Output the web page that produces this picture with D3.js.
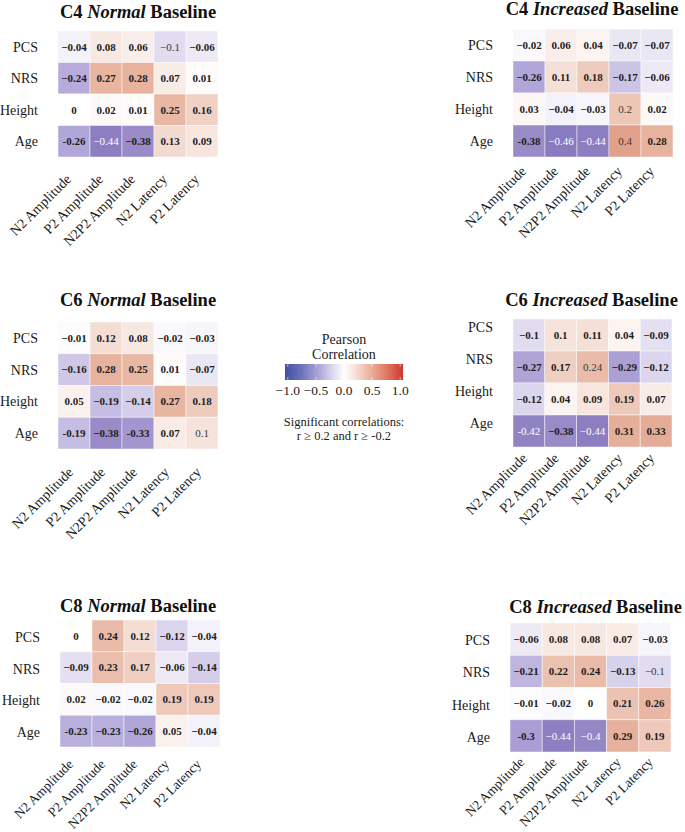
<!DOCTYPE html>
<html><head><meta charset="utf-8">
<script src="https://cdn.jsdelivr.net/npm/d3@7"></script>
<style>
html,body{margin:0;padding:0;background:#fff;}
svg{display:block;font-family:"Liberation Serif","Times New Roman",serif;}
</style></head>
<body><svg id="chart" width="685" height="832"></svg>
<script>
// ---------------- DATA ----------------
const rowLabels = ["PCS", "NRS", "Height", "Age"];
const colLabels = ["N2 Amplitude", "P2 Amplitude", "N2P2 Amplitude", "N2 Latency", "P2 Latency"];
const panelLocations = ["C4", "C4", "C6", "C6", "C8", "C8"];
const panelGroups = ["Normal", "Increased", "Normal", "Increased", "Normal", "Increased"];

const c4Normal = [
  [-0.04, 0.08, 0.06, -0.1, -0.06],
  [-0.24, 0.27, 0.28, 0.07, 0.01],
  [0, 0.02, 0.01, 0.25, 0.16],
  [-0.26, -0.44, -0.38, 0.13, 0.09]];
const c4Increased = [
  [-0.02, 0.06, 0.04, -0.07, -0.07],
  [-0.26, 0.11, 0.18, -0.17, -0.06],
  [0.03, -0.04, -0.03, 0.2, 0.02],
  [-0.38, -0.46, -0.44, 0.4, 0.28]];
const c6Normal = [
  [-0.01, 0.12, 0.08, -0.02, -0.03],
  [-0.16, 0.28, 0.25, 0.01, -0.07],
  [0.05, -0.19, -0.14, 0.27, 0.18],
  [-0.19, -0.38, -0.33, 0.07, 0.1]];
const c6Increased = [
  [-0.1, 0.1, 0.11, 0.04, -0.09],
  [-0.27, 0.17, 0.24, -0.29, -0.12],
  [-0.12, 0.04, 0.09, 0.19, 0.07],
  [-0.42, -0.38, -0.44, 0.31, 0.33]];
const c8Normal = [
  [0, 0.24, 0.12, -0.12, -0.04],
  [-0.09, 0.23, 0.17, -0.06, -0.14],
  [0.02, -0.02, -0.02, 0.19, 0.19],
  [-0.23, -0.23, -0.26, 0.05, -0.04]];
const c8Increased = [
  [-0.06, 0.08, 0.08, 0.07, -0.03],
  [-0.21, 0.22, 0.24, -0.13, -0.1],
  [-0.01, -0.02, 0, 0.21, 0.26],
  [-0.3, -0.44, -0.4, 0.29, 0.19]];
const panelValues = [c4Normal, c4Increased, c6Normal, c6Increased, c8Normal, c8Increased];

// cells printed in regular weight, and cells printed with a plain hyphen: [panel,row,col]
const regularWeightCells = [[0,0,3],[0,3,1],[1,2,3],[1,3,1],[1,3,2],[1,3,3],[2,3,4],[3,1,2],[3,3,0],[3,3,2],[5,1,4],[5,3,1],[5,3,2]];
const hyphenCells = [[0,3,0],[1,3,0],[2,3,0],[2,3,2],[3,3,0],[4,3,0],[5,3,0]];

const legendTicks = [-1.0, -0.5, 0.0, 0.5, 1.0];
const legendTitle = ["Pearson", "Correlation"];
const legendNote = ["Significant correlations:", "r \u2265 0.2 and r \u2265 -0.2"];

// ---------------- LAYOUT ----------------
const layout = [
  {x0: 58,  y0: 31,  w: 160, h: 126, titleY: 18,  titleDx: 0,  labelShift: 0,  xlDx: -2, xlDy: 23, xlFs: 14},
  {x0: 513, y0: 29,  w: 160, h: 128, titleY: 15,  titleDx: -1, labelShift: 0,  xlDx: -2, xlDy: 15, xlFs: 14},
  {x0: 58,  y0: 322, w: 160, h: 127, titleY: 306, titleDx: 0,  labelShift: 0,  xlDx: 0,  xlDy: 24, xlFs: 14},
  {x0: 513, y0: 319, w: 159, h: 128, titleY: 306, titleDx: -1, labelShift: -8, xlDx: -1, xlDy: 12, xlFs: 14},
  {x0: 60,  y0: 620, w: 160, h: 127, titleY: 612, titleDx: -2, labelShift: 1,  xlDx: -2, xlDy: 18, xlFs: 13.5},
  {x0: 510, y0: 623, w: 161, h: 129, titleY: 613, titleDx: 5,  labelShift: 1,  xlDx: -1, xlDy: 11, xlFs: 13.5}
];

const svg = d3.select("#chart");

const cellColor = d3.scaleLinear()
  .domain([-1, -0.45, -0.25, 0, 0.25, 0.45, 1])
  .range(["#3a4aa6", "#8a7cbf", "#b3a8d9", "#ffffff", "#e8b8a4", "#df9880", "#cc3a33"])
  .interpolate(d3.interpolateRgb)
  .clamp(true);

const legendColor = d3.scaleLinear()
  .domain([-1.05, -0.75, -0.5, -0.25, 0, 0.25, 0.5, 0.75, 1.05])
  .range(["#3c50a8", "#6e74bb", "#a49cd3", "#d3cfea", "#ffffff", "#f5d8cc", "#eaab96", "#de7a63", "#cd3730"]);

const fmt = v => {
  if (v === 0) return "0";
  let s = String(Math.abs(v));
  if (s.startsWith("0.")) s = "0" + s.slice(1);
  return (v < 0 ? "\u2212" : "") + s;
};
const inList = (list, p, r, c) => list.some(d => d[0] === p && d[1] === r && d[2] === c);

panelValues.forEach((vals, p) => {
  const L = layout[p];
  const g = svg.append("g");
  const x = d3.scaleBand().domain(colLabels).range([L.x0, L.x0 + L.w]);
  const y = d3.scaleBand().domain(rowLabels).range([L.y0, L.y0 + L.h]);

  const cells = [];
  vals.forEach((row, r) => row.forEach((v, c) => cells.push({r, c, v})));

  g.selectAll("rect.cell").data(cells).join("rect")
    .attr("class", "cell")
    .attr("x", d => x(colLabels[d.c]))
    .attr("y", d => y(rowLabels[d.r]))
    .attr("width", x.bandwidth())
    .attr("height", y.bandwidth())
    .attr("fill", d => cellColor(d.v))
    .attr("stroke", "#ffffff")
    .attr("stroke-opacity", 0.6)
    .attr("stroke-width", 0.8);

  g.selectAll("text.val").data(cells).join("text")
    .attr("class", "val")
    .attr("x", d => x(colLabels[d.c]) + x.bandwidth() / 2)
    .attr("y", d => y(rowLabels[d.r]) + y.bandwidth() / 2)
    .attr("dy", "0.35em")
    .attr("text-anchor", "middle")
    .attr("font-size", 11)
    .attr("font-weight", d => inList(regularWeightCells, p, d.r, d.c) ? "normal" : "bold")
    .attr("fill", d => d.v <= -0.4 ? "#ffffff" : (inList(regularWeightCells, p, d.r, d.c) ? "#3a3a3a" : "#1e1e1e"))
    .text(d => {
      const t = fmt(d.v);
      return inList(hyphenCells, p, d.r, d.c) ? t.replace("\u2212", "-") : t;
    });

  // row labels
  g.selectAll("text.rowlab").data(rowLabels).join("text")
    .attr("class", "rowlab")
    .attr("x", L.x0 - 20)
    .attr("y", d => y(d) + y.bandwidth() / 2 + L.labelShift)
    .attr("dy", "0.35em")
    .attr("text-anchor", "end")
    .attr("font-size", 14)
    .attr("fill", "#1a1a1a")
    .text(d => d);

  // column labels
  g.selectAll("text.collab").data(colLabels).join("text")
    .attr("class", "collab")
    .attr("text-anchor", "end")
    .attr("font-size", L.xlFs)
    .attr("fill", "#1a1a1a")
    .attr("transform", d => `translate(${x(d) + x.bandwidth() / 2 + L.xlDx},${L.y0 + L.h + L.xlDy}) rotate(-45)`)
    .text(d => d);

  // title
  const t = g.append("text")
    .attr("x", L.x0 + L.w / 2 + L.titleDx)
    .attr("y", L.titleY)
    .attr("text-anchor", "middle")
    .attr("font-size", 18.5)
    .attr("font-weight", "bold")
    .attr("fill", "#111");
  t.append("tspan").text(panelLocations[p] + " ");
  t.append("tspan").attr("font-style", "italic").text(panelGroups[p]);
  t.append("tspan").text(" Baseline");
});

// ---------------- LEGEND ----------------
const lg = svg.append("g");
const lx = d3.scaleLinear().domain([-1.05, 1.05]).range([285, 403]);
const barY = 364, barH = 16;
const defs = svg.append("defs");
const grad = defs.append("linearGradient").attr("id", "lgrad").attr("x1", "0%").attr("x2", "100%");
d3.range(0, 21).forEach(i => {
  const v = -1.05 + 2.1 * i / 20;
  grad.append("stop").attr("offset", (i * 5) + "%").attr("stop-color", legendColor(v));
});
lg.append("rect").attr("x", lx(-1.05)).attr("y", barY).attr("width", lx(1.05) - lx(-1.05)).attr("height", barH)
  .attr("fill", "url(#lgrad)");
lg.selectAll("line.tk").data(legendTicks).join("line")
  .attr("x1", d => lx(d)).attr("x2", d => lx(d))
  .attr("y1", barY).attr("y2", barY + 3)
  .attr("stroke", "#fff").attr("stroke-opacity", 0.7).attr("stroke-width", 0.8);
lg.selectAll("line.tkb").data(legendTicks).join("line")
  .attr("x1", d => lx(d)).attr("x2", d => lx(d))
  .attr("y1", barY + barH - 3).attr("y2", barY + barH)
  .attr("stroke", "#fff").attr("stroke-opacity", 0.7).attr("stroke-width", 0.8);
lg.selectAll("text.tl").data(legendTicks).join("text")
  .attr("x", d => lx(d)).attr("y", 395)
  .attr("text-anchor", "middle").attr("font-size", 13.5).attr("fill", "#222")
  .text(d => d3.format(".1f")(d).replace("-", "\u2212"));
lg.selectAll("text.lt").data(legendTitle).join("text")
  .attr("x", 344).attr("y", (d, i) => 344 + i * 14.5)
  .attr("text-anchor", "middle").attr("font-size", 14).attr("fill", "#222")
  .text(d => d);
lg.selectAll("text.ln").data(legendNote).join("text")
  .attr("x", 344).attr("y", (d, i) => 426 + i * 13.5)
  .attr("text-anchor", "middle").attr("font-size", 12.5).attr("fill", "#222")
  .text(d => d);
</script></body></html>
